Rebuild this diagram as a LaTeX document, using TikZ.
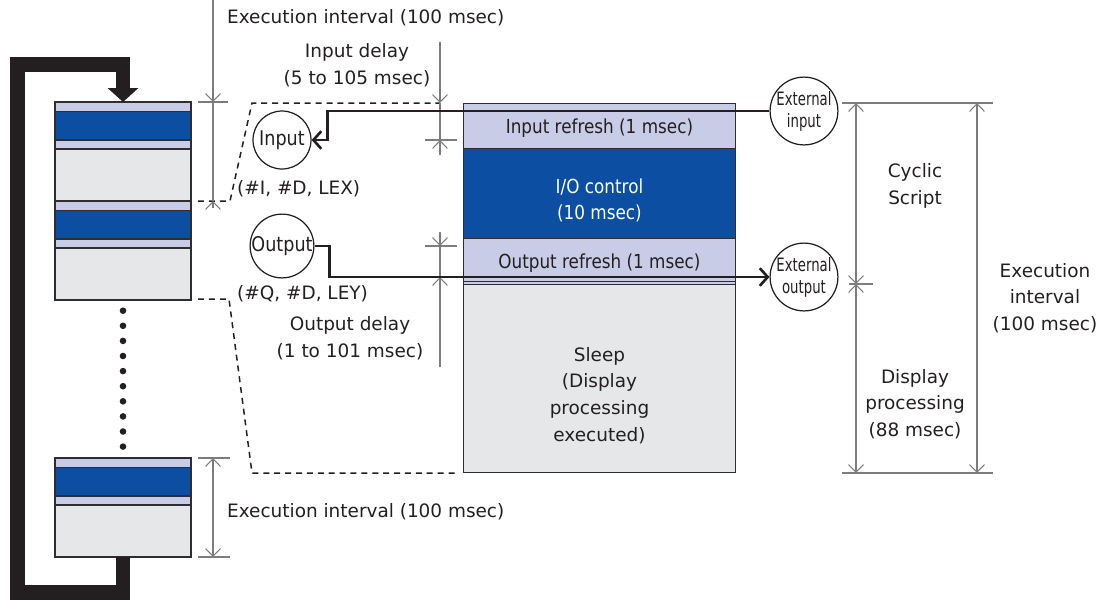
\documentclass[tikz,border=0pt]{standalone}
\usepackage{fontspec}
\setmainfont{DejaVu Sans}
\newfontfamily\bandfont{DejaVu Sans}[FakeStretch=0.87]
\newfontfamily\tightfont{DejaVu Sans}[FakeStretch=0.72]
\usetikzlibrary{arrows.meta, positioning}

\definecolor{lightband}{RGB}{200,204,230}
\definecolor{blueband}{RGB}{12,78,162}
\definecolor{grayband}{RGB}{230,231,232}
\definecolor{edgecol}{RGB}{45,45,50}
\definecolor{dimcol}{RGB}{125,125,125}
\definecolor{inkcol}{RGB}{35,31,32}

\begin{document}
\begin{tikzpicture}[x=0.02cm, y=-0.02cm, >={Straight Barb[length=4.4pt,width=8.5pt]},
  every node/.style={font=\fontsize{10.5}{15.2}\selectfont, text=inkcol}]
  % Define styles
  \tikzstyle{band} = [rectangle, draw=edgecol, line width=0.55pt, minimum width=5.46cm, inner sep=0pt, outer sep=0pt]
  \tikzstyle{bandtext} = [align=center, font=\bandfont\fontsize{11}{15}\selectfont]
  \tikzstyle{stackline} = [draw=edgecol, line width=0.7pt]
  \tikzstyle{dimline} = [draw=dimcol, line width=0.6pt]
  \tikzstyle{dashline} = [draw=inkcol, line width=0.85pt, dash pattern=on 3.4pt off 2.8pt]
  \tikzstyle{conn} = [draw=inkcol, line width=1.5pt, -{Straight Barb[length=4.5pt,width=10pt]}]
  \tikzstyle{iocircle} = [circle, draw=inkcol, line width=0.7pt, minimum size=1.16cm, inner sep=0pt, font=\bandfont\fontsize{11.5}{13}\selectfont]
  \tikzstyle{extcircle} = [circle, draw=inkcol, line width=0.7pt, minimum size=1.2cm, inner sep=0pt, align=center, font=\tightfont\fontsize{10.5}{12.5}\selectfont]
  \tikzstyle{loopline} = [draw=inkcol, line width=0.3cm, -{Triangle[length=0.28cm,width=0.6cm]}]

  \useasboundingbox (0,0) rectangle (1107,600);

  % Left stack of execution intervals
  \foreach \t in {102,201,458} {
    \draw[stackline, fill=lightband] (55,\t) rectangle (191,\t+9.5);
    \draw[stackline, fill=blueband] (55,\t+9.5) rectangle (191,\t+38);
    \draw[stackline, fill=lightband] (55,\t+38) rectangle (191,\t+47);
    \draw[stackline, fill=grayband] (55,\t+47) rectangle (191,\t+99);
  }
  \foreach \i in {0,...,9}
    \fill[inkcol] (123,310.7+15.1*\i) circle (0.066cm);

  \coordinate (loopout) at (123,557);
  \coordinate (loopin) at (123,102);
  \draw[loopline] (loopout) -- (123,592.5) -- (17.5,592.5) -- (17.5,64.7) -- (123,64.7) -- (loopin);

  % Nodes
  \node[band, fill=lightband, minimum height=0.9cm, anchor=north west] (inref) at (463,103) {};
  \node[band, fill=blueband, minimum height=1.82cm, below=0pt of inref] (ioctl) {};
  \node[band, fill=lightband, minimum height=0.86cm, below=0pt of ioctl] (outref) {};
  \node[band, fill=lightband, minimum height=0.06cm, below=0pt of outref] (strip) {};
  \node[band, fill=grayband, minimum height=3.76cm, below=0pt of strip] (sleep) {};
  \node[bandtext] (inreftxt) at ([yshift=-0.06cm]inref.center) {Input refresh (1 msec)};
  \node[bandtext, text=white] (ioctltxt) at ([yshift=-0.14cm]ioctl.center) {I/O control\\(10 msec)};
  \node[bandtext] (outreftxt) at ([yshift=-0.06cm]outref.center) {Output refresh (1 msec)};
  \node[align=center] (sleeptxt) at ([yshift=-0.33cm]sleep.center) {Sleep\\(Display\\processing\\executed)};

  \node[iocircle] (input) at (282,140) {Input};
  \node[iocircle] (output) at (282,246) {Output};
  \node[extcircle] (extin) at (804,111) {External\\input};
  \node[extcircle] (extout) at (804,277) {External\\output};

  \node[anchor=west] (toplbl) at (221,18) {Execution interval (100 msec)};
  \node[anchor=west] (botlbl) at (221,512) {Execution interval (100 msec)};
  \node[align=center] (indelay) at (357,65) {Input delay\\(5 to 105 msec)};
  \node[anchor=west] (inaddr) at (231,189) {(\#I, \#D, LEX)};
  \node[anchor=west] (outaddr) at (231,294) {(\#Q, \#D, LEY)};
  \node[align=center] (outdelay) at (350,338) {Output delay\\(1 to 101 msec)};
  \node[align=center] (cyclic) at (915,186) {Cyclic\\Script};
  \node[align=center] (display) at (915,404) {Display\\processing\\(88 msec)};
  \node[align=center] (execint) at (1045,298) {Execution\\interval\\(100 msec)};

  % Dashed guides
  \draw[dashline] (198,201) -- (230,201) -- (252,103) -- (440,103);
  \draw[dashline] (198,299) -- (229,299) -- (252,473) -- (457,473);

  % Dimensions
  \draw[dimline] (198,102) -- (228,102);
  \draw[dimline,->] (213,0) -- (213,102);
  \draw[dimline] (213,102) -- (213,201);
  \draw[dimline,->] (213,208) -- (213,201);

  \draw[dimline,->] (440,42) -- (440,103);
  \draw[dimline] (440,103) -- (440,140);
  \draw[dimline,->] (440,155) -- (440,140);
  \draw[dimline] (425,140) -- (457,140);

  \draw[dimline] (425,246) -- (457,246);
  \draw[dimline,->] (440,232) -- (440,246);
  \draw[dimline] (440,246) -- (440,277);
  \draw[dimline,->] (440,367) -- (440,277);

  \draw[dimline] (842,103) -- (993,103);
  \draw[dimline] (842,473) -- (993,473);
  \draw[dimline] (849,284) -- (873,284);
  \draw[dimline,<->] (856,103) -- (856,284);
  \draw[dimline,<->] (856,284) -- (856,473);
  \draw[dimline,<->] (977,103) -- (977,473);

  \draw[dimline] (198,458) -- (230,458);
  \draw[dimline] (198,557) -- (230,557);
  \draw[dimline,<->] (213,458) -- (213,557);

  % Arrows
  \draw[conn] (extin.west) -| ([xshift=0.32cm]input.east) -- (input.east);
  \draw[conn] (output.east) -- ++(15,0) |- (extout.west);
\end{tikzpicture}
\end{document}
